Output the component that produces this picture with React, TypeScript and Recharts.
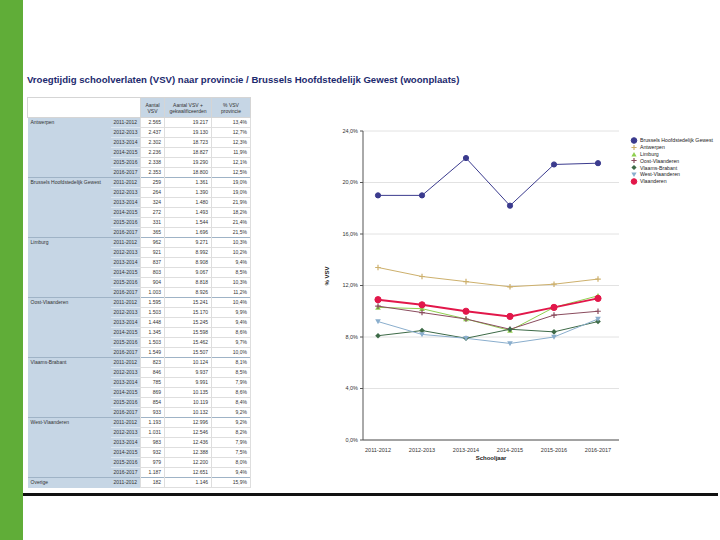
import React from 'react'
import { LineChart, Line, XAxis, YAxis, CartesianGrid } from 'recharts'

// schooljaren on the x axis
const years = ['2011-2012', '2012-2013', '2013-2014', '2014-2015', '2015-2016', '2016-2017']

// % VSV per province / region
const brussel = [19.0, 19.0, 21.9, 18.2, 21.4, 21.5]
const antwerpen = [13.4, 12.7, 12.3, 11.9, 12.1, 12.5]
const limburg = [10.3, 10.2, 9.4, 8.5, 10.3, 11.2]
const oostVlaanderen = [10.4, 9.9, 9.4, 8.6, 9.7, 10.0]
const vlaamsBrabant = [8.1, 8.5, 7.9, 8.6, 8.4, 9.2]
const westVlaanderen = [9.2, 8.2, 7.9, 7.5, 8.0, 9.4]
const vlaanderen = [10.9, 10.5, 10.0, 9.6, 10.3, 11.0]

const yTicks = [0, 4, 8, 12, 16, 20, 24]

// table: province, schooljaar, aantal VSV, aantal VSV + gekwalificeerden, % VSV
const tableRows: string[][] = [
  ['Antwerpen', '2011-2012', '2.565', '19.217', '13,4%'],
  ['', '2012-2013', '2.437', '19.130', '12,7%'],
  ['', '2013-2014', '2.302', '18.723', '12,3%'],
  ['', '2014-2015', '2.236', '18.827', '11,9%'],
  ['', '2015-2016', '2.338', '19.290', '12,1%'],
  ['', '2016-2017', '2.353', '18.800', '12,5%'],
  ['Brussels Hoofdstedelijk Gewest', '2011-2012', '259', '1.361', '19,0%'],
  ['', '2012-2013', '264', '1.390', '19,0%'],
  ['', '2013-2014', '324', '1.480', '21,9%'],
  ['', '2014-2015', '272', '1.493', '18,2%'],
  ['', '2015-2016', '331', '1.544', '21,4%'],
  ['', '2016-2017', '365', '1.696', '21,5%'],
  ['Limburg', '2011-2012', '962', '9.271', '10,3%'],
  ['', '2012-2013', '921', '8.992', '10,2%'],
  ['', '2013-2014', '837', '8.908', '9,4%'],
  ['', '2014-2015', '803', '9.067', '8,5%'],
  ['', '2015-2016', '904', '8.818', '10,3%'],
  ['', '2016-2017', '1.003', '8.926', '11,2%'],
  ['Oost-Vlaanderen', '2011-2012', '1.595', '15.241', '10,4%'],
  ['', '2012-2013', '1.503', '15.170', '9,9%'],
  ['', '2013-2014', '1.448', '15.245', '9,4%'],
  ['', '2014-2015', '1.345', '15.598', '8,6%'],
  ['', '2015-2016', '1.503', '15.462', '9,7%'],
  ['', '2016-2017', '1.549', '15.507', '10,0%'],
  ['Vlaams-Brabant', '2011-2012', '823', '10.124', '8,1%'],
  ['', '2012-2013', '846', '9.937', '8,5%'],
  ['', '2013-2014', '785', '9.991', '7,9%'],
  ['', '2014-2015', '869', '10.135', '8,6%'],
  ['', '2015-2016', '854', '10.119', '8,4%'],
  ['', '2016-2017', '933', '10.132', '9,2%'],
  ['West-Vlaanderen', '2011-2012', '1.193', '12.996', '9,2%'],
  ['', '2012-2013', '1.031', '12.546', '8,2%'],
  ['', '2013-2014', '983', '12.436', '7,9%'],
  ['', '2014-2015', '932', '12.388', '7,5%'],
  ['', '2015-2016', '979', '12.200', '8,0%'],
  ['', '2016-2017', '1.187', '12.651', '9,4%'],
  ['Overige', '2011-2012', '182', '1.146', '15,9%'],
]

type Shape = 'circle' | 'plus' | 'triangle' | 'triangleDown' | 'diamond'

const series: { key: string; name: string; values: number[]; color: string; shape: Shape; width: number; r: number }[] = [
  { key: 'bru', name: 'Brussels Hoofdstedelijk Gewest', values: brussel, color: '#3b3b8e', shape: 'circle', width: 1, r: 2.6 },
  { key: 'ant', name: 'Antwerpen', values: antwerpen, color: '#cdb06c', shape: 'plus', width: 1, r: 2.8 },
  { key: 'lim', name: 'Limburg', values: limburg, color: '#8fd04f', shape: 'triangle', width: 1, r: 2.8 },
  { key: 'ovl', name: 'Oost-Vlaanderen', values: oostVlaanderen, color: '#8a4c5e', shape: 'plus', width: 1, r: 2.8 },
  { key: 'vbr', name: 'Vlaams-Brabant', values: vlaamsBrabant, color: '#3d6a47', shape: 'diamond', width: 1, r: 2.8 },
  { key: 'wvl', name: 'West-Vlaanderen', values: westVlaanderen, color: '#8aaecd', shape: 'triangleDown', width: 1, r: 2.8 },
  { key: 'vla', name: 'Vlaanderen', values: vlaanderen, color: '#e2174a', shape: 'circle', width: 2, r: 3.1 },
]

const chartData = years.map((y, i) => {
  const row: Record<string, string | number> = { year: y }
  series.forEach((s) => {
    row[s.key] = s.values[i]
  })
  return row
})

const FONT = '"Liberation Sans", Arial, sans-serif'
const TABLE_BLUE = '#c6d6e5'

function Marker({ shape, cx, cy, r, color }: { shape: Shape; cx: number; cy: number; r: number; color: string }) {
  if (shape === 'circle') return <circle cx={cx} cy={cy} r={r} fill={color} stroke={color} />
  if (shape === 'plus')
    return (
      <path d={`M${cx - r} ${cy}H${cx + r}M${cx} ${cy - r}V${cy + r}`} stroke={color} strokeWidth={1.2} fill="none" />
    )
  if (shape === 'triangle')
    return <polygon points={`${cx},${cy - r} ${cx - r},${cy + r * 0.8} ${cx + r},${cy + r * 0.8}`} fill={color} />
  if (shape === 'triangleDown')
    return <polygon points={`${cx},${cy + r} ${cx - r},${cy - r * 0.8} ${cx + r},${cy - r * 0.8}`} fill={color} />
  return <polygon points={`${cx},${cy - r} ${cx + r},${cy} ${cx},${cy + r} ${cx - r},${cy}`} fill={color} />
}

function DataTable() {
  const cell: React.CSSProperties = {
    padding: '0 3px',
    height: 9,
    fontSize: 5,
    lineHeight: '9px',
    whiteSpace: 'nowrap',
    overflow: 'hidden',
    color: '#333',
  }
  return (
    <table
      style={{
        position: 'absolute',
        left: 27,
        top: 97,
        borderCollapse: 'collapse',
        fontFamily: FONT,
        tableLayout: 'fixed',
        width: 223,
      }}
    >
      <colgroup>
        <col style={{ width: 83 }} />
        <col style={{ width: 30 }} />
        <col style={{ width: 24 }} />
        <col style={{ width: 47 }} />
        <col style={{ width: 39 }} />
      </colgroup>
      <thead>
        <tr style={{ height: 20 }}>
          <th colSpan={2} style={{ background: '#fff', border: '1px solid #d5d5d5' }} />
          {['Aantal VSV', 'Aantal VSV + gekwalificeerden', '% VSV provincie'].map((h) => (
            <th
              key={h}
              style={{
                ...cell,
                height: 19,
                background: TABLE_BLUE,
                fontWeight: 'normal',
                whiteSpace: 'normal',
                lineHeight: '6px',
                textAlign: 'center',
                border: '1px solid #d5d5d5',
              }}
            >
              {h}
            </th>
          ))}
        </tr>
      </thead>
      <tbody>
        {tableRows.map((r, i) => {
          const groupStart = r[0] !== ''
          const top = groupStart ? '1px solid #9fb3c6' : undefined
          return (
            <tr key={i} style={{ height: 10 }}>
              <td style={{ ...cell, background: TABLE_BLUE, borderTop: top }}>{r[0]}</td>
              <td
                style={{
                  ...cell,
                  background: TABLE_BLUE,
                  textAlign: 'right',
                  borderTop: top ?? '1px solid #dde7f0',
                }}
              >
                {r[1]}
              </td>
              {[r[2], r[3], r[4]].map((v, j) => (
                <td
                  key={j}
                  style={{
                    ...cell,
                    textAlign: 'right',
                    background: '#fff',
                    borderTop: top ?? '1px solid #dedede',
                    borderLeft: '1px solid #dedede',
                    borderRight: j === 2 ? '1px solid #dedede' : undefined,
                    borderBottom: i === tableRows.length - 1 ? '1px solid #dedede' : undefined,
                  }}
                >
                  {v}
                </td>
              ))}
            </tr>
          )
        })}
      </tbody>
    </table>
  )
}

function ChartLegend() {
  return (
    <div
      style={{
        position: 'absolute',
        left: 630,
        top: 137,
        fontFamily: FONT,
        fontSize: 5.2,
        color: '#222',
        whiteSpace: 'nowrap',
      }}
    >
      {series.map((s) => (
        <div key={s.key} style={{ display: 'flex', alignItems: 'center', height: 6.8 }}>
          <svg width={8} height={7} style={{ marginRight: 2, flexShrink: 0 }}>
            <Marker shape={s.shape} cx={4} cy={3.5} r={s.shape === 'circle' ? 2.8 : 2.6} color={s.color} />
          </svg>
          <span>{s.name}</span>
        </div>
      ))}
    </div>
  )
}

const fmtPct = (v: number) => `${v.toFixed(1).replace('.', ',')}%`

export default function App() {
  return (
    <div
      style={{
        position: 'absolute',
        left: 0,
        top: 0,
        width: 720,
        height: 540,
        background: '#fff',
        overflow: 'hidden',
        fontFamily: FONT,
      }}
    >
      <div style={{ position: 'absolute', left: 0, top: 0, width: 23, height: 540, background: '#60ad38' }} />
      <div
        style={{
          position: 'absolute',
          left: 27,
          top: 74,
          fontSize: 9.6,
          fontWeight: 'bold',
          color: '#1d2a6e',
          whiteSpace: 'nowrap',
        }}
      >
        Vroegtijdig schoolverlaten (VSV) naar provincie / Brussels Hoofdstedelijk Gewest (woonplaats)
      </div>

      <DataTable />

      <div style={{ position: 'absolute', left: 300, top: 120 }}>
        <LineChart width={420} height={360} data={chartData} margin={{ top: 11, right: 101, bottom: 0, left: 0 }}>
          <CartesianGrid vertical={false} stroke="#e2e2e2" />
          <XAxis
            dataKey="year"
            height={40}
            padding={{ left: 15, right: 21 }}
            tick={{ fontSize: 5.5, fill: '#333', fontFamily: FONT }}
            tickLine={false}
            axisLine={{ stroke: '#555' }}
            interval={0}
            label={{ value: 'Schooljaar', position: 'insideTop', offset: 16, fontSize: 6, fontWeight: 'bold', fill: '#222' }}
          />
          <YAxis
            width={63}
            domain={[0, 24]}
            ticks={yTicks}
            tickFormatter={fmtPct}
            tick={{ fontSize: 5.5, fill: '#333', fontFamily: FONT }}
            tickSize={3}
            tickLine={{ stroke: '#555' }}
            axisLine={{ stroke: '#555' }}
            label={{ value: '% VSV', angle: -90, position: 'insideLeft', offset: 27, fontSize: 6, fontWeight: 'bold', fill: '#222' }}
          />
          {series.map((s) => (
            <Line
              key={s.key}
              dataKey={s.key}
              name={s.name}
              type="linear"
              stroke={s.color}
              strokeWidth={s.width}
              isAnimationActive={false}
              dot={(p: any) => (
                <Marker key={`${s.key}-${p.index}`} shape={s.shape} cx={p.cx} cy={p.cy} r={s.r} color={s.color} />
              )}
              activeDot={false}
            />
          ))}
        </LineChart>
      </div>

      <ChartLegend />

      <div style={{ position: 'absolute', left: 23, top: 493, width: 695, height: 2.5, background: '#111' }} />
    </div>
  )
}
